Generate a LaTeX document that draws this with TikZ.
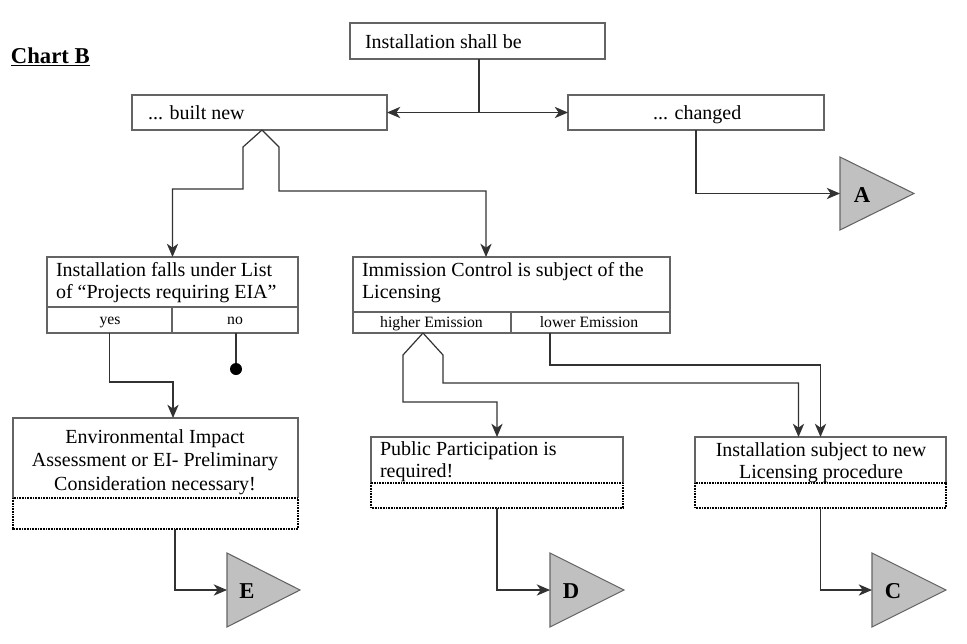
\documentclass[tikz,border=0pt]{standalone}
\usepackage{fontspec}
\setmainfont{Liberation Serif}
\usetikzlibrary{arrows.meta,calc,fit}
\definecolor{boxgray}{RGB}{100,100,100}
\definecolor{linegray}{RGB}{50,50,50}
\definecolor{trifill}{RGB}{192,192,192}
\begin{document}
\begin{tikzpicture}[x=0.75pt,y=-0.75pt,
  every node/.style={inner sep=0pt, outer sep=0pt},
  box/.style={draw=boxgray, line width=1pt},
  solidbox/.style={draw=boxgray, line width=1pt},
  dots/.style={draw=black, line width=0.8pt, dash pattern=on 0.6pt off 0.6pt},
  txt/.style={font=\fontsize{15}{16.5}\selectfont},
  txtc/.style={font=\fontsize{15}{17.3}\selectfont, align=center},
  small/.style={font=\fontsize{11.8}{13}\selectfont},
  conn/.style={draw=linegray, line width=0.9pt},
  arr/.style={conn, -{Stealth[length=10pt,width=8.5pt,inset=3pt]}},
  darr/.style={conn, {Stealth[length=10pt,width=8.5pt,inset=3pt]}-{Stealth[length=10pt,width=8.5pt,inset=3pt]}},
  tri/.style={draw=boxgray, fill=trifill, line width=0.8pt, line join=miter},
  tlet/.style={font=\fontsize{17}{17}\selectfont\bfseries}
]
\useasboundingbox (0,0) rectangle (967,643);

% title
\node[tlet, anchor=base west] (title) at (11,63) {\underline{Chart B}};

% top boxes
\node[box, fit={(350,23) (605,59)}] (top) {};
\node[txt, anchor=base west] (toptext) at (365,48) {Installation shall be};
\node[box, fit={(132,95) (387,130)}] (new) {};
\node[txt, anchor=base west] (newtext) at (148,119) {... built new};
\node[box, fit={(568,95) (824,130)}] (chg) {};
\node[txt, anchor=base west] (chgtext) at (653,119) {... changed};

% EIA list box
\node[box, fit={(47,257) (298,333)}] (ins) {};
\node[box, fit={(47,307) (172,333)}] (yescell) {};
\node[box, fit={(172,307) (298,333)}] (nocell) {};
\node[txt, anchor=base west, align=left] (instext) at (56,298) {Installation falls under List\\of ``Projects requiring EIA''};
\node[small, anchor=base] (yestext) at (110,324) {yes};
\node[small, anchor=base] (notext) at (235,324) {no};

% Immission box
\node[box, fit={(353,257) (670,333)}] (imm) {};
\node[box, fit={(353,312) (511,333)}] (hicell) {};
\node[box, fit={(511,312) (670,333)}] (locell) {};
\node[txt, anchor=base west, align=left] (immtext) at (362,298) {Immission Control is subject of the\\Licensing};
\node[small, anchor=base] (hitext) at (431.5,327) {higher Emission};
\node[small, anchor=base] (lotext) at (589,327) {lower Emission};

% EIA result box
\node[fit={(13,418) (298,529)}] (env) {};
\draw[solidbox] (13,498) -- (13,418) -- (298,418) -- (298,498);
\draw[dots] (13,498) rectangle (298,529);
\node[txtc, anchor=base] (envtext) at (155,490) {Environmental Impact\\Assessment or EI- Preliminary\\Consideration necessary!};

% Public participation box
\node[fit={(371,437) (623,508)}] (pub) {};
\draw[solidbox] (371,483) -- (371,437) -- (623,437) -- (623,483);
\draw[dots] (371,483) rectangle (623,508);
\node[txt, anchor=base west, align=left] (pubtext) at (380,477) {Public Participation is\\required!};

% new licensing box
\node[fit={(695,437) (946,508)}] (lic) {};
\draw[solidbox] (695,483) -- (695,437) -- (946,437) -- (946,483);
\draw[dots] (695,483) rectangle (946,508);
\node[txt, anchor=base, align=center] (lictext) at (821,478) {Installation subject to new\\Licensing procedure};

% triangles
\draw[tri] (840,157) -- (914,193.5) -- (840,230) -- cycle;
\coordinate (triA) at (840,193.5);
\node[tlet, anchor=base] (letA) at (862,202) {A};
\draw[tri] (227,553) -- (300,590) -- (227,627) -- cycle;
\coordinate (triE) at (227,590);
\node[tlet, anchor=base] (letE) at (247,598) {E};
\draw[tri] (550,553) -- (624,590) -- (550,627) -- cycle;
\coordinate (triD) at (550,590);
\node[tlet, anchor=base] (letD) at (571,598) {D};
\draw[tri] (872,553) -- (946,590) -- (872,627) -- cycle;
\coordinate (triC) at (872,590);
\node[tlet, anchor=base] (letC) at (893,598) {C};

% connectors
\draw[conn] (top.south -| 479,0) -- (479,112.5);
\draw[darr] (new.east) -- (chg.west);
\draw[arr] (chg.south) |- (triA);

\coordinate (newroof) at (262,130);
\draw[arr] (newroof) -- (243,147) -- (243,189) -| (ins.north);
\draw[arr] (newroof) -- (279,147) -- (279,191) -| ($(imm.north west)+(133,0)$);

\draw[arr] (yescell.south) -- ++(0,49) -| ($(env.north west)+(160,0)$);
\node[circle, fill=black, minimum size=9pt] (nodot) at (236,369) {};
\draw[conn] (nocell.south -| nodot) -- (nodot);

\coordinate (hiroof) at (423,333);
\draw[arr] (hiroof) -- (403,355) -- (403,402) -| (pub.north);
\draw[arr] (hiroof) -- (443,355) -- (443,383) -| ($(lic.north)+(-22,0)$);
\draw[arr] ($(locell.south west)+(39,0)$) -- ++(0,32) -| (lic.north);

\draw[arr] ($(env.south west)+(162,0)$) |- (triE);
\draw[arr] (pub.south) |- (triD);
\draw[arr] (lic.south) |- (triC);
\end{tikzpicture}
\end{document}
